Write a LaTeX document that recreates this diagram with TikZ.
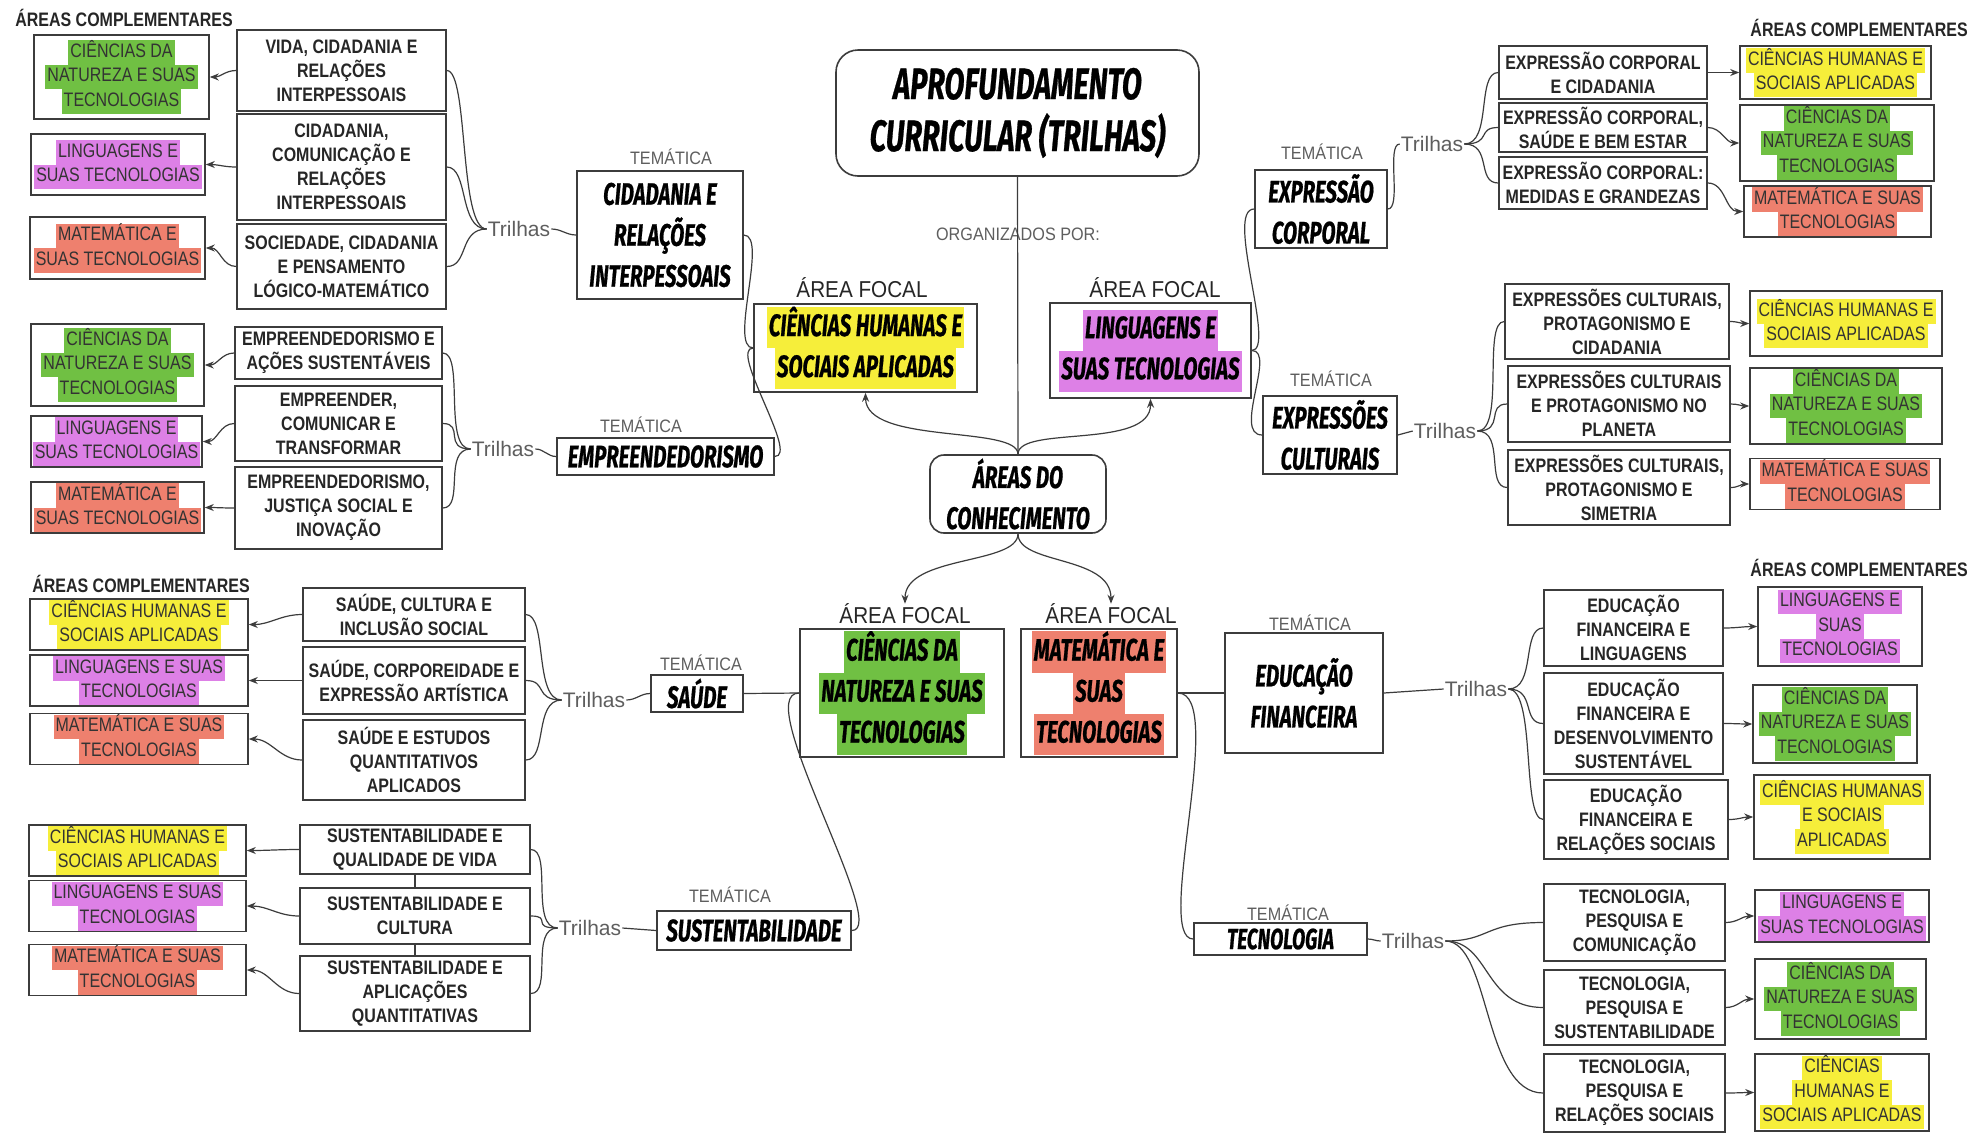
\documentclass[tikz,border=0pt]{standalone}
\usepackage{fontspec}
\setmainfont{Liberation Sans}
\newfontfamily\condf[FakeStretch=0.82]{Liberation Sans}
\newfontfamily\labf[FakeStretch=0.9]{Liberation Sans}
\newfontfamily\dispf[FakeStretch=0.66,UprightFont={* Bold Italic},FakeBold=0.6]{Fira Sans}
\usetikzlibrary{arrows.meta}

\definecolor{hlyel}{HTML}{F6EE3A}
\definecolor{hlgrn}{HTML}{70C043}
\definecolor{hlpnk}{HTML}{DD80E6}
\definecolor{hlred}{HTML}{EE806E}
\definecolor{edge}{HTML}{3C3C3C}
\definecolor{inkgray}{HTML}{5E5E5E}

% marker-style highlight behind one line of text
\newcommand\hl[2]{{\setlength{\fboxsep}{0pt}\colorbox{#1}{\strut\hspace{2pt}#2\hspace{2pt}}}}

% box given by its corners (x1,y1)-(x2,y2)
\newcommand\placebox[7]{%
  \pgfmathsetmacro\pbW{#4-#2}\pgfmathsetmacro\pbH{#5-#3}%
  \pgfmathsetmacro\pbX{(#2+#4)/2}\pgfmathsetmacro\pbY{(#3+#5)/2}%
  \node[#6,minimum width=\pbW pt,minimum height=\pbH pt] (#1) at (\pbX,\pbY) {#7};}

\begin{document}
\begin{tikzpicture}[x=1pt,y=-1pt,
  trail/.style={draw=edge,line width=1.6pt,fill=white,align=center,inner sep=2pt,text=black!85,
    font={\condf\bfseries\fontsize{19.5}{24}\selectfont}},
  comp/.style={draw=edge,line width=1.6pt,fill=white,align=center,inner sep=1pt,text=black!80,
    font={\condf\fontsize{19.5}{24.5}\selectfont}},
  theme/.style={draw=edge,line width=1.6pt,fill=white,align=center,inner sep=2pt,text=black,
    font={\dispf\fontsize{31}{41}\selectfont}},
  titlebox/.style={theme,rounded corners=22pt,font={\dispf\fontsize{44}{52}\selectfont}},
  tlabel/.style={text=inkgray,inner sep=0pt,font={\labf\fontsize{18}{20}\selectfont}},
  flabel/.style={text=black!85,inner sep=0pt,font={\labf\fontsize{23}{25}\selectfont}},
  trl/.style={text=inkgray,inner sep=1pt,font={\fontsize{21}{24}\selectfont}},
  capt/.style={text=black!85,inner sep=0pt,font={\condf\bfseries\fontsize{19.5}{22}\selectfont}},
  link/.style={draw=edge,line width=1.2pt},
  arr/.style={link,-{Stealth[length=9pt,width=7pt]}}
]
\fill[white] (0,0) rectangle (1970,1136);
\useasboundingbox (0,0) rectangle (1970,1136);

%% ---------- centre ----------
\placebox{TIT}{836}{50}{1199}{176}{titlebox}{APROFUNDAMENTO\\CURRICULAR (TRILHAS)}
\node[tlabel] (ORG) at (1018,234) {ORGANIZADOS POR:};
\node[flabel] (FL1) at (862,288) {ÁREA FOCAL};
\placebox{CHF}{754}{304}{977}{392}{theme}{\hl{hlyel}{CIÊNCIAS HUMANAS E}\\\hl{hlyel}{SOCIAIS APLICADAS}}
\node[flabel] (FL2) at (1155,288) {ÁREA FOCAL};
\placebox{LGF}{1050}{303}{1251}{398}{theme}{\hl{hlpnk}{LINGUAGENS E}\\\hl{hlpnk}{SUAS TECNOLOGIAS}}
\placebox{AREAS}{930}{455}{1106}{533}{theme,rounded corners=14pt}{ÁREAS DO\\CONHECIMENTO}
\node[flabel] (FL3) at (905,614) {ÁREA FOCAL};
\placebox{CNF}{800}{631}{1004}{755}{theme}{\hl{hlgrn}{CIÊNCIAS DA}\\\hl{hlgrn}{NATUREZA E SUAS}\\\hl{hlgrn}{TECNOLOGIAS}}
\node[flabel] (FL4) at (1111,614) {ÁREA FOCAL};
\placebox{MTF}{1021}{631}{1177}{755}{theme}{\hl{hlred}{MATEMÁTICA E}\\\hl{hlred}{SUAS}\\\hl{hlred}{TECNOLOGIAS}}

%% ---------- cidadania ----------
\node[capt] (CAPA) at (124,18) {ÁREAS COMPLEMENTARES};
\placebox{C1a}{34}{35}{209}{119}{comp}{\hl{hlgrn}{CIÊNCIAS DA}\\\hl{hlgrn}{NATUREZA E SUAS}\\\hl{hlgrn}{TECNOLOGIAS}}
\placebox{C1b}{31}{134}{205}{195}{comp}{\hl{hlpnk}{LINGUAGENS E}\\\hl{hlpnk}{SUAS TECNOLOGIAS}}
\placebox{C1c}{30}{217}{205}{279}{comp}{\hl{hlred}{MATEMÁTICA E}\\\hl{hlred}{SUAS TECNOLOGIAS}}
\placebox{T1a}{237}{30}{446}{111}{trail}{VIDA, CIDADANIA E\\RELAÇÕES\\INTERPESSOAIS}
\placebox{T1b}{237}{114}{446}{220}{trail}{CIDADANIA,\\COMUNICAÇÃO E\\RELAÇÕES\\INTERPESSOAIS}
\placebox{T1c}{237}{224}{446}{309}{trail}{SOCIEDADE, CIDADANIA\\E PENSAMENTO\\LÓGICO-MATEMÁTICO}
\node[trl] (TriA) at (519,229) {Trilhas};
\node[tlabel] (TemA) at (671,157) {TEMÁTICA};
\placebox{CID}{577}{171}{743}{299}{theme}{CIDADANIA E\\RELAÇÕES\\INTERPESSOAIS}

%% ---------- empreendedorismo ----------
\placebox{C2a}{31}{324}{204}{406}{comp}{\hl{hlgrn}{CIÊNCIAS DA}\\\hl{hlgrn}{NATUREZA E SUAS}\\\hl{hlgrn}{TECNOLOGIAS}}
\placebox{C2b}{31}{416}{202}{467}{comp}{\hl{hlpnk}{LINGUAGENS E}\\\hl{hlpnk}{SUAS TECNOLOGIAS}}
\placebox{C2c}{31}{482}{204}{533}{comp}{\hl{hlred}{MATEMÁTICA E}\\\hl{hlred}{SUAS TECNOLOGIAS}}
\placebox{T2a}{235}{327}{442}{379}{trail}{EMPREENDEDORISMO E\\AÇÕES SUSTENTÁVEIS}
\placebox{T2b}{235}{386}{442}{461}{trail}{EMPREENDER,\\COMUNICAR E\\TRANSFORMAR}
\placebox{T2c}{235}{467}{442}{549}{trail}{EMPREENDEDORISMO,\\JUSTIÇA SOCIAL E\\INOVAÇÃO}
\node[trl] (TriB) at (503,449) {Trilhas};
\node[tlabel] (TemB) at (641,425) {TEMÁTICA};
\placebox{EMP}{557}{438}{774}{475}{theme,inner sep=1pt}{EMPREENDEDORISMO}

%% ---------- expressão corporal ----------
\node[capt,anchor=east] (CAPC) at (1968,28) {ÁREAS COMPLEMENTARES};
\placebox{T3a}{1499}{46}{1707}{99}{trail}{EXPRESSÃO CORPORAL\\E CIDADANIA}
\placebox{T3b}{1499}{103}{1707}{152}{trail}{EXPRESSÃO CORPORAL,\\SAÚDE E BEM ESTAR}
\placebox{T3c}{1499}{157}{1707}{209}{trail}{EXPRESSÃO CORPORAL:\\MEDIDAS E GRANDEZAS}
\placebox{C3a}{1740}{46}{1931}{99}{comp}{\hl{hlyel}{CIÊNCIAS HUMANAS E}\\\hl{hlyel}{SOCIAIS APLICADAS}}
\placebox{C3b}{1740}{106}{1934}{180}{comp}{\hl{hlgrn}{CIÊNCIAS DA}\\\hl{hlgrn}{NATUREZA E SUAS}\\\hl{hlgrn}{TECNOLOGIAS}}
\placebox{C3c}{1744}{188}{1931}{235}{comp}{\hl{hlred}{MATEMÁTICA E SUAS}\\\hl{hlred}{TECNOLOGIAS}}
\node[trl] (TriC) at (1432,144) {Trilhas};
\node[tlabel] (TemC) at (1322,152) {TEMÁTICA};
\placebox{EC}{1255}{170}{1387}{248}{theme}{EXPRESSÃO\\CORPORAL}

%% ---------- expressões culturais ----------
\placebox{T4a}{1505}{284}{1729}{359}{trail}{EXPRESSÕES CULTURAIS,\\PROTAGONISMO E\\CIDADANIA}
\placebox{T4b}{1508}{366}{1730}{442}{trail}{EXPRESSÕES CULTURAIS\\E PROTAGONISMO NO\\PLANETA}
\placebox{T4c}{1508}{450}{1730}{525}{trail}{EXPRESSÕES CULTURAIS,\\PROTAGONISMO E\\SIMETRIA}
\placebox{C4a}{1750}{291}{1942}{356}{comp}{\hl{hlyel}{CIÊNCIAS HUMANAS E}\\\hl{hlyel}{SOCIAIS APLICADAS}}
\placebox{C4b}{1750}{368}{1942}{444}{comp}{\hl{hlgrn}{CIÊNCIAS DA}\\\hl{hlgrn}{NATUREZA E SUAS}\\\hl{hlgrn}{TECNOLOGIAS}}
\placebox{C4c}{1750}{460}{1940}{508}{comp}{\hl{hlred}{MATEMÁTICA E SUAS}\\\hl{hlred}{TECNOLOGIAS}}
\node[trl] (TriD) at (1445,431) {Trilhas};
\node[tlabel] (TemD) at (1331,379) {TEMÁTICA};
\placebox{ECU}{1263}{396}{1397}{474}{theme}{EXPRESSÕES\\CULTURAIS}

%% ---------- saúde ----------
\node[capt] (CAPE) at (141,584) {ÁREAS COMPLEMENTARES};
\placebox{C5a}{30}{602}{248}{647}{comp}{\hl{hlyel}{CIÊNCIAS HUMANAS E}\\\hl{hlyel}{SOCIAIS APLICADAS}}
\placebox{C5b}{30}{657}{248}{704}{comp}{\hl{hlpnk}{LINGUAGENS E SUAS}\\\hl{hlpnk}{TECNOLOGIAS}}
\placebox{C5c}{30}{715}{248}{763}{comp}{\hl{hlred}{MATEMÁTICA E SUAS}\\\hl{hlred}{TECNOLOGIAS}}
\placebox{T5a}{303}{588}{525}{641}{trail}{SAÚDE, CULTURA E\\INCLUSÃO SOCIAL}
\placebox{T5b}{303}{647}{525}{714}{trail}{SAÚDE, CORPOREIDADE E\\EXPRESSÃO ARTÍSTICA}
\placebox{T5c}{303}{720}{525}{800}{trail}{SAÚDE E ESTUDOS\\QUANTITATIVOS\\APLICADOS}
\node[trl] (TriE) at (594,700) {Trilhas};
\node[tlabel] (TemE) at (701,663) {TEMÁTICA};
\placebox{SAU}{651}{675}{743}{712}{theme,inner sep=1pt}{SAÚDE}

%% ---------- sustentabilidade ----------
\placebox{C6a}{29}{827}{246}{874}{comp}{\hl{hlyel}{CIÊNCIAS HUMANAS E}\\\hl{hlyel}{SOCIAIS APLICADAS}}
\placebox{C6b}{29}{882}{246}{930}{comp}{\hl{hlpnk}{LINGUAGENS E SUAS}\\\hl{hlpnk}{TECNOLOGIAS}}
\placebox{C6c}{29}{947}{246}{993}{comp}{\hl{hlred}{MATEMÁTICA E SUAS}\\\hl{hlred}{TECNOLOGIAS}}
\placebox{T6a}{300}{825}{530}{874}{trail}{SUSTENTABILIDADE E\\QUALIDADE DE VIDA}
\placebox{T6b}{300}{888}{530}{944}{trail}{SUSTENTABILIDADE E\\CULTURA}
\placebox{T6c}{300}{956}{530}{1031}{trail}{SUSTENTABILIDADE E\\APLICAÇÕES\\QUANTITATIVAS}
\node[trl] (TriF) at (590,928) {Trilhas};
\node[tlabel] (TemF) at (730,895) {TEMÁTICA};
\placebox{SUS}{657}{911}{851}{950}{theme,inner sep=1pt}{SUSTENTABILIDADE}

%% ---------- educação financeira ----------
\node[capt,anchor=east] (CAPG) at (1968,568) {ÁREAS COMPLEMENTARES};
\node[tlabel] (TemG) at (1310,623) {TEMÁTICA};
\placebox{EF}{1225}{633}{1383}{753}{theme}{EDUCAÇÃO\\FINANCEIRA}
\node[trl] (TriG) at (1476,689) {Trilhas};
\placebox{T7a}{1544}{590}{1723}{666}{trail}{EDUCAÇÃO\\FINANCEIRA E\\LINGUAGENS}
\placebox{T7b}{1544}{673}{1723}{774}{trail}{EDUCAÇÃO\\FINANCEIRA E\\DESENVOLVIMENTO\\SUSTENTÁVEL}
\placebox{T7c}{1544}{780}{1728}{859}{trail}{EDUCAÇÃO\\FINANCEIRA E\\RELAÇÕES SOCIAIS}
\placebox{C7a}{1758}{587}{1922}{666}{comp}{\hl{hlpnk}{LINGUAGENS E}\\\hl{hlpnk}{SUAS}\\\hl{hlpnk}{TECNOLOGIAS}}
\placebox{C7b}{1753}{685}{1917}{763}{comp}{\hl{hlgrn}{CIÊNCIAS DA}\\\hl{hlgrn}{NATUREZA E SUAS}\\\hl{hlgrn}{TECNOLOGIAS}}
\placebox{C7c}{1754}{775}{1930}{859}{comp}{\hl{hlyel}{CIÊNCIAS HUMANAS}\\\hl{hlyel}{E SOCIAIS}\\\hl{hlyel}{APLICADAS}}

%% ---------- tecnologia ----------
\node[tlabel] (TemH) at (1288,913) {TEMÁTICA};
\placebox{TEC}{1194}{923}{1367}{955}{theme,inner sep=0pt,font={\dispf\fontsize{29}{30}\selectfont}}{TECNOLOGIA}
\node[trl] (TriH) at (1413,941) {Trilhas};
\placebox{T8a}{1544}{884}{1725}{961}{trail}{TECNOLOGIA,\\PESQUISA E\\COMUNICAÇÃO}
\placebox{T8b}{1544}{970}{1725}{1045}{trail}{TECNOLOGIA,\\PESQUISA E\\SUSTENTABILIDADE}
\placebox{T8c}{1544}{1054}{1725}{1132}{trail}{TECNOLOGIA,\\PESQUISA E\\RELAÇÕES SOCIAIS}
\placebox{C8a}{1755}{890}{1929}{942}{comp}{\hl{hlpnk}{LINGUAGENS E}\\\hl{hlpnk}{SUAS TECNOLOGIAS}}
\placebox{C8b}{1755}{959}{1926}{1039}{comp}{\hl{hlgrn}{CIÊNCIAS DA}\\\hl{hlgrn}{NATUREZA E SUAS}\\\hl{hlgrn}{TECNOLOGIAS}}
\placebox{C8c}{1755}{1054}{1929}{1131}{comp}{\hl{hlyel}{CIÊNCIAS}\\\hl{hlyel}{HUMANAS E}\\\hl{hlyel}{SOCIAIS APLICADAS}}

%% ================= connectors =================
% centre
\draw[link] (TIT.south) -- (AREAS.north);
\draw[arr] (AREAS.north) .. controls (1018,425) and (866,445) .. (CHF.south);
\draw[arr] (AREAS.north) .. controls (1018,425) and (1151,450) .. (LGF.south);
\draw[arr] (AREAS.south) .. controls (1018,565) and (905,555) .. (FL3.north);
\draw[arr] (AREAS.south) .. controls (1018,565) and (1111,555) .. (FL4.north);

% focal areas to their themes
\draw[link] (CHF.west) .. controls +(-25,0) and +(25,0) .. (CID.east);
\draw[link] (CHF.west) .. controls +(-25,0) and +(25,0) .. (EMP.east);
\draw[link] (LGF.east) .. controls +(25,0) and +(-30,0) .. (EC.west);
\draw[link] (LGF.east) .. controls +(25,0) and +(-30,0) .. (ECU.west);
\draw[link] (CNF.west) -- (SAU.east);
\draw[link] (CNF.west) .. controls +(-50,0) and +(40,0) .. (SUS.east);
\draw[link] (MTF.east) -- (EF.west);
\draw[link] (MTF.east) .. controls +(50,0) and +(-40,0) .. (TEC.west);

% themes to their "Trilhas"
\draw[link] (TriA.east) to[out=0,in=180] (CID.west);
\draw[link] (TriB.east) to[out=0,in=180] (EMP.west);
\draw[link] (EC.east) .. controls (1402,209) and (1386,144) .. (TriC.west);
\draw[link] (ECU.east) -- (TriD.west);
\draw[link] (TriE.east) to[out=0,in=180] (SAU.west);
\draw[link] (TriF.east) -- (SUS.west);
\draw[link] (EF.east) -- (TriG.west);
\draw[link] (TEC.east) to[out=0,in=180] (TriH.west);

% braces on the left
\foreach \t in {T1a,T1b,T1c}{\draw[link] (\t.east) .. controls +(22,0) and +(-28,0) .. (TriA.west);}
\foreach \t in {T2a,T2b,T2c}{\draw[link] (\t.east) .. controls +(22,0) and +(-28,0) .. (TriB.west);}
\foreach \t in {T5a,T5b,T5c}{\draw[link] (\t.east) .. controls +(22,0) and +(-28,0) .. (TriE.west);}
\foreach \t in {T6a,T6b,T6c}{\draw[link] (\t.east) .. controls +(22,0) and +(-28,0) .. (TriF.west);}
% braces on the right
\foreach \t in {T3a,T3b,T3c}{\draw[link] (TriC.east) .. controls +(28,0) and +(-22,0) .. (\t.west);}
\foreach \t in {T4a,T4b,T4c}{\draw[link] (TriD.east) .. controls +(28,0) and +(-22,0) .. (\t.west);}
\foreach \t in {T7a,T7b,T7c}{\draw[link] (TriG.east) .. controls +(28,0) and +(-22,0) .. (\t.west);}
\foreach \t in {T8a,T8b,T8c}{\draw[link] (TriH.east) .. controls +(45,0) and +(-60,0) .. (\t.west);}

% sustentabilidade trails chained
\draw[link] (T6a.south) -- (T6b.north);
\draw[link] (T6b.south) -- (T6c.north);

% trails to complementary areas
\foreach \a/\b in {T1a/C1a,T1b/C1b,T1c/C1c,T2a/C2a,T2b/C2b,T2c/C2c,T5a/C5a,T5b/C5b,T5c/C5c,T6a/C6a,T6b/C6b,T6c/C6c}
  {\draw[arr] (\a.west) to[out=180,in=0] (\b.east);}
\foreach \a/\b in {T3a/C3a,T3b/C3b,T3c/C3c,T4a/C4a,T4b/C4b,T4c/C4c,T7a/C7a,T7b/C7b,T7c/C7c,T8a/C8a,T8b/C8b,T8c/C8c}
  {\draw[arr] (\a.east) to[out=0,in=180] (\b.west);}
\end{tikzpicture}
\end{document}
